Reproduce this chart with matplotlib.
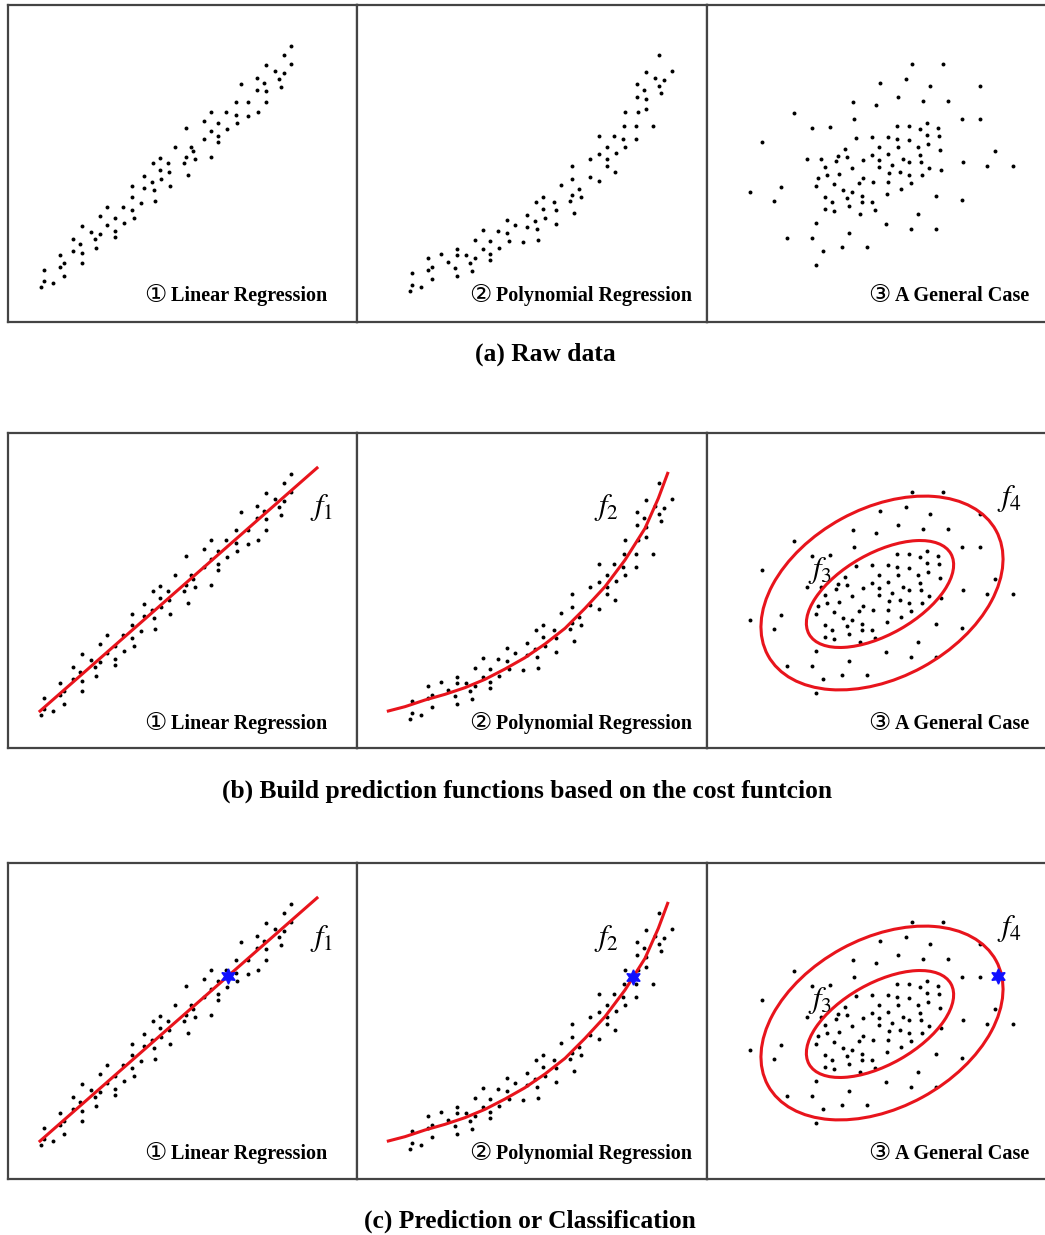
import numpy as np
import matplotlib.pyplot as plt
from matplotlib.patches import Ellipse

plt.rcParams['mathtext.fontset'] = 'stix'

W, H = 1045, 1235

# scatter points (readings at 3x zoom)
lin_pts = np.array([
    (850, 48), (828, 76), (850, 103), (773, 105), (802, 124), (828, 130), (812, 147), (818, 171),
    (746, 145), (768, 160), (698, 162), (746, 180), (773, 184), (773, 216), (751, 245), (719, 216),
    (719, 257), (683, 216), (683, 255), (688, 280), (655, 247), (658, 298), (610, 247), (587, 272),
    (630, 280), (610, 302), (630, 318), (630, 337), (587, 328), (610, 382), (533, 295), (500, 352),
    (549, 350), (555, 363), (533, 382), (560, 387), (528, 398), (539, 436), (457, 383), (434, 400),
    (479, 400), (457, 420), (484, 425), (409, 438), (431, 455), (460, 446), (486, 468), (372, 469),
    (408, 474), (437, 480), (372, 500), (440, 514), (400, 520), (372, 540), (345, 530), (377, 563),
    (298, 530), (276, 558), (320, 563), (298, 584), (348, 580), (320, 602), (320, 621), (276, 612),
    (250, 607), (222, 587), (260, 628), (265, 654), (195, 626), (216, 642), (195, 662), (222, 668),
    (222, 698), (155, 674), (167, 699), (156, 710), (167, 738), (107, 720), (107, 754), (134, 760),
    (100, 770)])
poly_pts = np.array([
    (808, 44), (845, 93), (767, 96), (795, 115), (822, 120), (806, 137), (740, 133), (762, 151),
    (740, 170), (767, 176), (812, 160), (767, 207), (745, 215), (705, 215), (702, 258), (738, 258),
    (790, 258), (627, 287), (673, 288), (700, 296), (738, 298), (706, 321), (650, 321), (678, 340),
    (627, 342), (600, 357), (650, 358), (650, 378), (675, 397), (546, 378), (546, 416), (600, 412),
    (628, 424), (514, 434), (568, 447), (546, 466), (573, 470), (540, 483), (552, 520), (459, 470),
    (438, 487), (492, 485), (459, 507), (498, 509), (464, 533), (412, 525), (434, 542), (499, 552),
    (412, 561), (440, 567), (352, 540), (375, 556), (352, 580), (325, 572), (280, 571), (358, 604),
    (400, 606), (444, 601), (300, 603), (256, 599), (327, 624), (278, 627), (300, 643), (300, 661),
    (256, 654), (229, 646), (240, 668), (202, 628), (202, 646), (175, 666), (196, 685), (245, 694),
    (202, 708), (152, 642), (115, 655), (126, 680), (113, 691), (125, 718), (65, 700), (65, 735),
    (92, 741), (60, 752)])
gen_pts = np.array([
    (517, 42), (610, 42), (421, 98), (497, 86), (570, 108), (719, 108), (338, 157), (407, 166),
    (475, 140), (548, 153), (625, 153), (162, 190), (217, 235), (270, 231), (341, 206), (665, 208),
    (719, 208), (470, 229), (507, 229), (539, 236), (560, 219), (594, 233), (347, 263), (397, 260),
    (443, 260), (471, 268), (507, 269), (560, 255), (598, 258), (418, 292), (475, 292), (534, 290),
    (564, 283), (599, 301), (315, 298), (293, 317), (320, 322), (445, 312), (396, 315), (490, 328),
    (508, 336), (540, 315), (544, 335), (765, 304), (670, 335), (742, 348), (820, 348), (67, 277),
    (200, 328), (243, 328), (288, 333), (370, 329), (418, 330), (418, 350), (457, 346), (255, 350),
    (337, 355), (566, 355), (602, 361), (233, 383), (261, 375), (298, 373), (370, 384), (446, 369),
    (481, 367), (508, 375), (545, 376), (228, 409), (283, 402), (358, 400), (398, 395), (445, 395),
    (513, 399), (123, 410), (31, 427), (310, 421), (337, 427), (320, 443), (367, 438), (441, 432),
    (484, 418), (588, 438), (665, 449), (102, 454), (255, 440), (276, 457), (367, 456), (395, 457),
    (326, 468), (255, 476), (283, 482), (405, 479), (361, 493), (534, 493), (228, 519), (439, 523),
    (512, 536), (589, 536), (326, 548), (140, 564), (217, 564), (249, 602), (305, 591), (381, 591),
    (228, 646)])
zoom_origin = [(8, 30), (390, 40), (740, 50)]
raw_top = 5

# f2 curve as traced in panel (b)-2 (zoom readings, origin 385,465, panel top 433)
f2_trace = np.array([
    (10, 738), (60, 725), (120, 705), (180, 688), (240, 668), (300, 643), (360, 612), (420, 578),
    (480, 537), (540, 490), (600, 430), (660, 365), (720, 285), (780, 190), (820, 100), (848, 25)])
f2_x = 385 + f2_trace[:, 0] / 3.0
f2_y = 465 + f2_trace[:, 1] / 3.0 - 433

# convert readings to pixel x and distance below panel top
panels_xy = []
for pts, (ox, oy) in zip([lin_pts, poly_pts, gen_pts], zoom_origin):
    panels_xy.append((ox + pts[:, 0] / 3.0, oy + pts[:, 1] / 3.0 - raw_top))

col_edges = [8, 357, 707, 1047]
row_tops = [5, 433, 863]
row_bottoms = [322, 748, 1179]
captions = ['(a) Raw data',
            '(b) Build prediction functions based on the cost funtcion',
            '(c) Prediction or Classification']
caption_x = [545, 527, 530]
caption_y = [354, 791, 1221]
label_marks = ['\u2460', '\u2461', '\u2462']
labels = ['Linear Regression', 'Polynomial Regression', 'A General Case']
label_right = [327, 692, 1029]

f1_range = (40, 317)
f1_coef = np.polyfit(panels_xy[0][0], panels_xy[0][1], 1)
# ellipses: centre x, centre y, width, height, angle
f3_ell = (880, 161, 163, 81, -29.6)
f4_ell = (882, 160, 260, 169, -28.7)
f_label_pos = {'$f_1$': (322, 75), '$f_2$': (607, 75), '$f_3$': (820, 137), '$f_4$': (1010, 66)}
star_f1_x = 228
star_f2 = (633, 114)
star_f4 = (998, 113)

red = dict(color='#e8141c', lw=2.2, zorder=3)
star = dict(marker=(6, 1, 0), ms=11, color='#1010ff', zorder=4)

fig = plt.figure(figsize=(W / 100, H / 100), dpi=100)

for r in range(3):
    for c in range(3):
        x0, x1 = col_edges[c], col_edges[c + 1]
        y0, y1 = row_tops[r], row_bottoms[r]
        ax = fig.add_axes([x0 / W, 1 - y1 / H, (x1 - x0) / W, (y1 - y0) / H])
        ax.set_xlim(x0, x1)
        ax.set_ylim(y1 - y0, 0)
        ax.set_xticks([])
        ax.set_yticks([])
        for sp in ax.spines.values():
            sp.set_color('#444444')
            sp.set_linewidth(1.6)

        px, py = panels_xy[c]
        ax.scatter(px, py, s=8, color='black', linewidths=0, zorder=2)
        t = ax.text(label_right[c], 291, labels[c], ha='right', va='center',
                    fontsize=14.5, fontweight='bold', family='Liberation Serif')
        ax.annotate(label_marks[c], xy=(0, 0.5), xycoords=t, xytext=(-3, 1),
                    textcoords='offset points', ha='right', va='center',
                    fontsize=18, family='DejaVu Sans')

        if r == 0:
            continue
        if c == 0:
            xs = np.linspace(*f1_range, 50)
            ax.plot(xs, np.polyval(f1_coef, xs), **red)
            ax.text(*f_label_pos['$f_1$'], '$f_1$', fontsize=22, ha='center', va='center')
            if r == 2:
                ax.plot(star_f1_x, np.polyval(f1_coef, star_f1_x), **star)
        elif c == 1:
            ax.plot(f2_x, f2_y, solid_joinstyle='round', **red)
            ax.text(*f_label_pos['$f_2$'], '$f_2$', fontsize=22, ha='center', va='center')
            if r == 2:
                ax.plot(*star_f2, **star)
        else:
            for e in (f3_ell, f4_ell):
                ax.add_patch(Ellipse((e[0], e[1]), e[2], e[3], angle=e[4], fill=False,
                                     ec=red['color'], lw=red['lw'], zorder=3))
            ax.text(*f_label_pos['$f_3$'], '$f_3$', fontsize=22, ha='center', va='center')
            ax.text(*f_label_pos['$f_4$'], '$f_4$', fontsize=22, ha='center', va='center')
            if r == 2:
                ax.plot(*star_f4, **star)

for cap, cx, cy in zip(captions, caption_x, caption_y):
    fig.text(cx / W, 1 - cy / H, cap, ha='center', va='center', fontsize=18.4,
             fontweight='bold', family='Liberation Serif')

fig.savefig('out.png', dpi=100)
